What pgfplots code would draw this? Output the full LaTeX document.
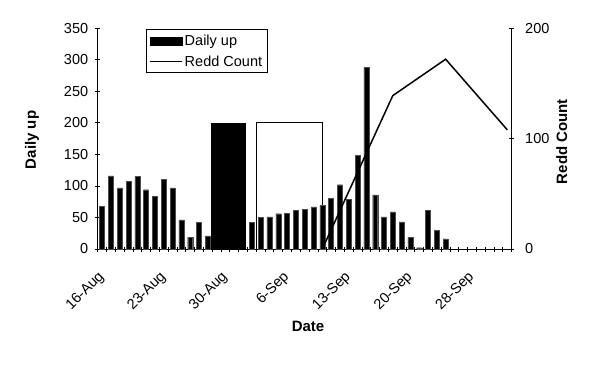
\documentclass[border=0pt]{standalone}
\usepackage{fontspec}
\setmainfont{Liberation Sans}
\usepackage{pgfplots}
\pgfplotsset{compat=1.18}
\newcommand{\fs}{\fontsize{14.5}{16}\selectfont}
\newcommand{\fl}{\fontsize{15}{17}\selectfont}
\begin{document}
\begin{tikzpicture}
\path[use as bounding box] (0pt,0pt) rectangle (601pt,365pt);
\begin{axis}[
 at={(97.7pt,116pt)}, anchor=south west,
 scale only axis, width=414pt, height=220.7pt,
 xmin=-0.5, xmax=46.5, ymin=0, ymax=350,
 axis x line*=bottom, axis y line*=left,
 axis line style={black, line width=0.8pt, -},
 /pgf/number format/assume math mode=true,
 tick align=center, major tick length=0pt, minor tick length=5pt,
 tick style={black, line width=0.8pt},
 ytick={0,50,...,350}, minor ytick={0,50,...,350},
 xtick={0,7,14,21,28,35,42},
 xticklabels={16-Aug,23-Aug,30-Aug,6-Sep,13-Sep,20-Sep,28-Sep},
 minor xtick={-0.5,0.5,...,46.5},
 xticklabel style={rotate=45, anchor=north east, xshift=-15pt, yshift=-8pt, font=\fs},
 yticklabel style={font=\fs, xshift=-6pt},
 ylabel={\bfseries Daily up},
 ylabel style={at={(axis description cs:-0.159,0.494)}, anchor=center, font=\fl},
 xlabel={\bfseries Date},
 xlabel style={at={(axis description cs:0.508,-0.353)}, anchor=center, font=\fl},
 legend style={at={(0.117,0.995)}, anchor=north west, draw=black, line width=0.8pt, font=\fs, inner xsep=3pt, inner ysep=3pt, row sep=5pt},
 legend cell align=left,
 clip=false,
]
\addplot[fill=white, draw=black, line width=0.8pt, forget plot] coordinates {(17.47,200)(25.0,200)} \closedcycle;
\addplot[ybar, bar width=5pt, bar shift=0pt, fill=black, draw=black!70, line width=0.3pt,
  legend image code/.code={\fill[black] (2pt,-4pt) rectangle (34pt,4pt);}] coordinates {
(0,68)(1,116)(2,97)(3,107)(4,115)(5,94)(6,84)(7,111)(8,97)(9,46)(10,19)(11,42)(12,21)
(17,42)(18,50)(19,51)(20,56)(21,57)(22,61)(23,63)(24,67)(25,69)(26,80)(27,102)(28,79)
(29,149)(30,288)(31,86)(32,51)(33,59)(34,43)(35,19)(36,2)(37,61)(38,30)(39,16)};
\addlegendentry{Daily up}
\addplot[fill=black, draw=black, forget plot] coordinates {(12.35,200)(16.3,200)} \closedcycle;
\addlegendimage{black, line width=1.2pt, legend image code/.code={\draw[black, line width=1.2pt] (2pt,0pt) -- (34pt,0pt);}}
\addlegendentry{Redd Count}
\end{axis}
\begin{axis}[
 at={(97.7pt,116pt)}, anchor=south west,
 scale only axis, width=414pt, height=220.7pt,
 xmin=-0.5, xmax=46.5, ymin=0, ymax=200,
 axis x line=none, axis y line*=right,
 axis line style={black, line width=0.8pt, -},
 /pgf/number format/assume math mode=true,
 tick align=center, major tick length=0pt, minor tick length=5pt,
 tick style={black, line width=0.8pt},
 ytick={0,100,200}, minor ytick={0,100,200},
 yticklabel style={font=\fs, xshift=10pt},
 ylabel={\bfseries Redd Count},
 ylabel style={at={(axis description cs:1.121,0.487)}, anchor=center, rotate=0, font=\fl},
]
\addplot[black, line width=1.5pt, mark=none] coordinates {(25,0)(33,139)(39,172)(46,108)};
\end{axis}
\end{tikzpicture}
\end{document}
